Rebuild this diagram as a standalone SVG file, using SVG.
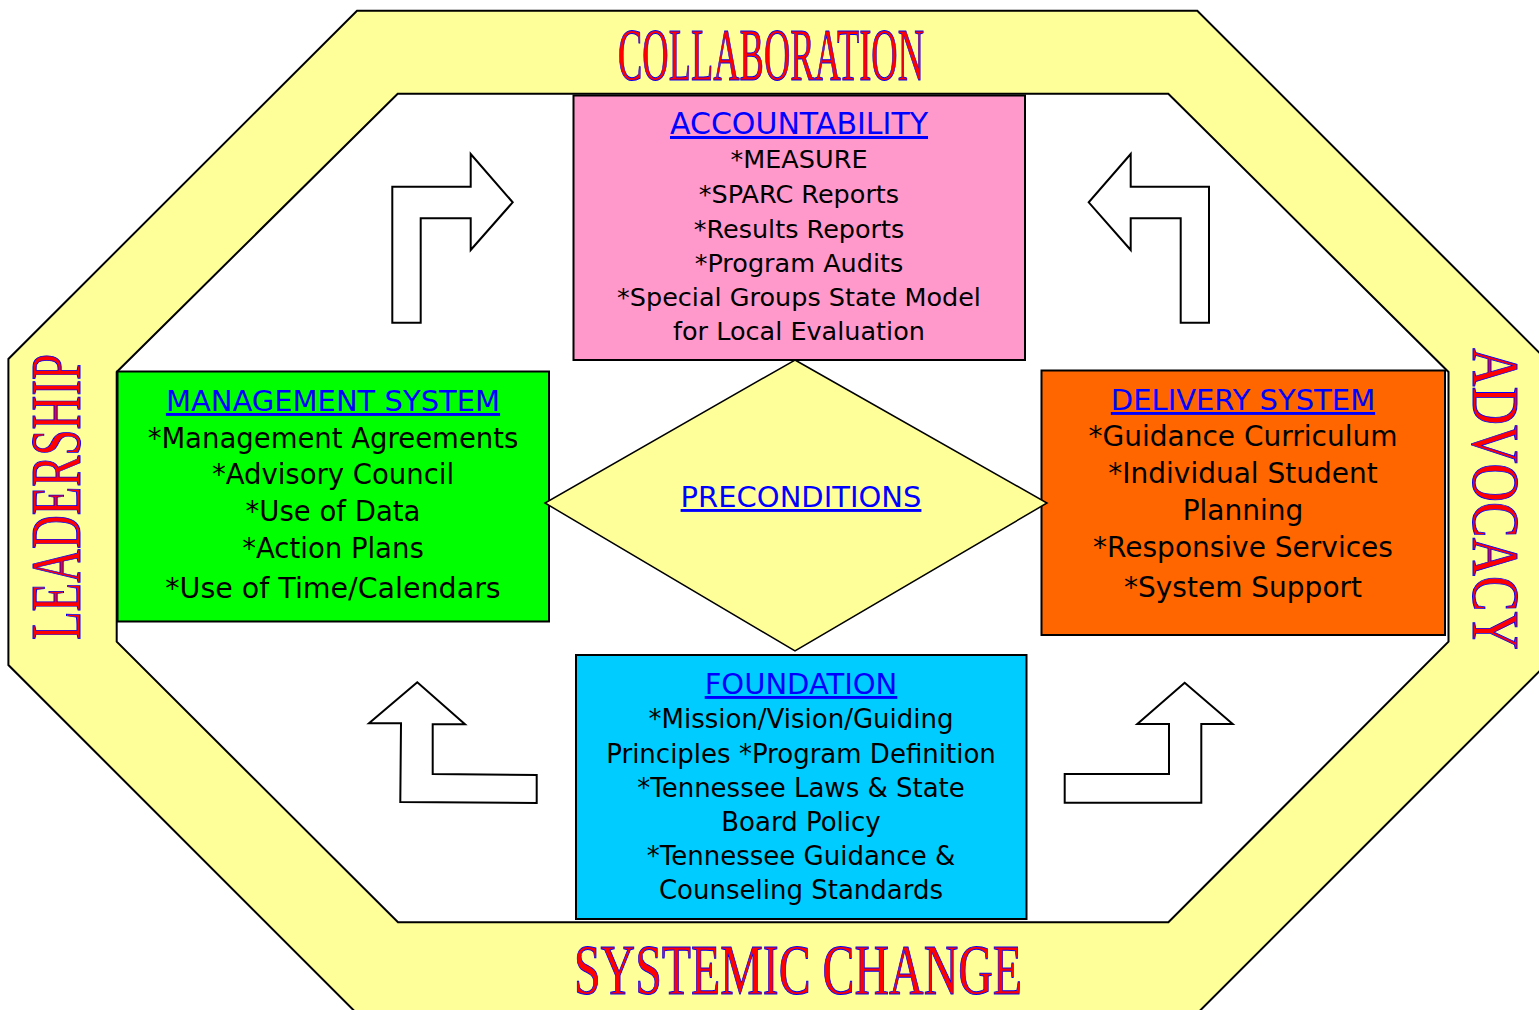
<svg xmlns="http://www.w3.org/2000/svg" width="1539" height="1010" viewBox="0 0 1539 1010">
  <style>
    .ring { fill: #FFFF99; stroke: #000; stroke-width: 2; fill-rule: evenodd; }
    .box { stroke: #000; stroke-width: 2; }
    .arrow { fill: #FFFFFF; stroke: #000; stroke-width: 2; stroke-linejoin: miter; }
    .big { font-family: "Liberation Serif", "Times New Roman", serif; fill: #FF0000; stroke: #0000FF; stroke-width: 1; }
    .head { font-family: "DejaVu Sans", Verdana, sans-serif; font-size: 29px; fill: #0000FF; text-decoration: underline; text-anchor: middle; }
    .body { font-family: "DejaVu Sans", Verdana, sans-serif; fill: #000; text-anchor: middle; }
  </style>
  <rect x="0" y="0" width="1539" height="1010" fill="#FFFFFF"/>

  <g id="frame">
    <path class="ring" d="M357,10.7 L1197.3,10.7 L1545.6,359 L1545.6,665 L1198.3,1012.3 L355.7,1012.3 L8.4,665 L8.4,359 Z M397.7,93.7 L1168.3,93.7 L1448.5,372 L1448.5,641.7 L1168.4,922.3 L398,922.3 L116.7,641.7 L116.7,372 Z"/>
    <text class="big" x="618" y="80" font-size="75" textLength="306" lengthAdjust="spacingAndGlyphs">COLLABORATION</text>
    <text class="big" x="574" y="994" font-size="72" textLength="448" lengthAdjust="spacingAndGlyphs">SYSTEMIC CHANGE</text>
    <text class="big" transform="translate(80,640) rotate(-90)" x="0" y="0" font-size="71" textLength="286" lengthAdjust="spacingAndGlyphs">LEADERSHIP</text>
    <text class="big" transform="translate(1473,348) rotate(90)" x="0" y="0" font-size="68" textLength="302" lengthAdjust="spacingAndGlyphs">ADVOCACY</text>
  </g>

  <g id="connectors">
    <polygon class="arrow" points="392.3,186.7 470.7,186.7 470.7,154 512.7,202.3 470.7,250 470.7,218.3 420.7,218.3 420.7,322.7 392.3,322.7"/>
    <polygon class="arrow" points="1130.7,154 1088.7,202.3 1130.7,250 1130.7,218.3 1180.7,218.3 1180.7,322.7 1209,322.7 1209,186.7 1130.7,186.7"/>
    <polygon class="arrow" points="1184.7,682.7 1137.3,724 1169,724 1169,774 1064.7,774 1064.7,802.7 1201.3,802.7 1201.3,724 1232.7,724"/>
    <polygon class="arrow" points="417.3,682.3 369,723.3 401,723.3 400.3,802 536.7,803 536.7,775 432.7,774 432.7,724.3 465,724.3"/>
  </g>

  <g id="accountability">
    <rect class="box" x="573.5" y="95.5" width="451.5" height="264.5" fill="#FF99CC"/>
    <text class="head" x="799" y="134" style="font-size:30px">ACCOUNTABILITY</text>
    <g class="body" font-size="25.5">
      <text x="799" y="168">*MEASURE</text>
      <text x="799" y="203">*SPARC Reports</text>
      <text x="799" y="238">*Results Reports</text>
      <text x="799" y="272">*Program Audits</text>
      <text x="799" y="306">*Special Groups State Model</text>
      <text x="799" y="340">for Local Evaluation</text>
    </g>
  </g>

  <g id="management">
    <rect class="box" x="117.5" y="371.5" width="431.5" height="250" fill="#00FF00"/>
    <text class="head" x="333" y="411">MANAGEMENT SYSTEM</text>
    <g class="body" font-size="27.5">
      <text x="333" y="448">*Management Agreements</text>
      <text x="333" y="484">*Advisory Council</text>
      <text x="333" y="521">*Use of Data</text>
      <text x="333" y="558">*Action Plans</text>
      <text x="333" y="598" font-size="28.5">*Use of Time/Calendars</text>
    </g>
  </g>

  <g id="delivery">
    <rect class="box" x="1041.5" y="370.5" width="403.5" height="264.5" fill="#FF6600"/>
    <text class="head" x="1243" y="410">DELIVERY SYSTEM</text>
    <g class="body" font-size="28">
      <text x="1243" y="446">*Guidance Curriculum</text>
      <text x="1243" y="483">*Individual Student</text>
      <text x="1243" y="520">Planning</text>
      <text x="1243" y="557">*Responsive Services</text>
      <text x="1243" y="597">*System Support</text>
    </g>
  </g>

  <g id="foundation">
    <rect class="box" x="576" y="655" width="450.5" height="264" fill="#00CCFF"/>
    <text class="head" x="801" y="694">FOUNDATION</text>
    <g class="body" font-size="26">
      <text x="801" y="728">*Mission/Vision/Guiding</text>
      <text x="801" y="763">Principles *Program Definition</text>
      <text x="801" y="797">*Tennessee Laws &amp; State</text>
      <text x="801" y="831">Board Policy</text>
      <text x="801" y="865">*Tennessee Guidance &amp;</text>
      <text x="801" y="899">Counseling Standards</text>
    </g>
  </g>

  <g id="preconditions">
    <polygon points="795,360 1047,503 795,651 545,503" fill="#FFFF99" stroke="#000" stroke-width="1.5"/>
    <text class="head" x="801" y="507">PRECONDITIONS</text>
  </g>
</svg>
